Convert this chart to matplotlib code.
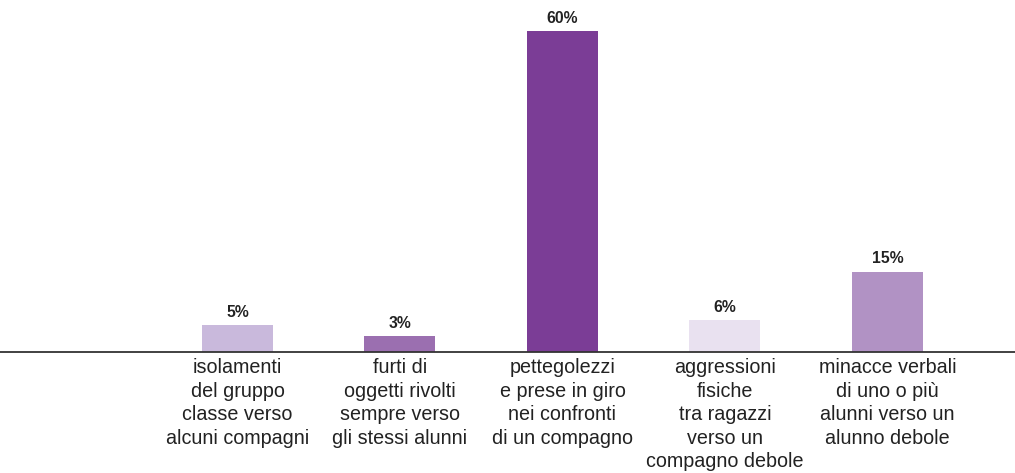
import matplotlib
matplotlib.use("Agg")
import matplotlib.pyplot as plt
import numpy as np

categories = [
    "isolamenti\ndel gruppo\nclasse verso\nalcuni compagni",
    "furti di\noggetti rivolti\nsempre verso\ngli stessi alunni",
    "pettegolezzi\ne prese in giro\nnei confronti\ndi un compagno",
    "aggressioni\nfisiche\ntra ragazzi\nverso un\ncompagno debole",
    "minacce verbali\ndi uno o più\nalunni verso un\nalunno debole",
]
values = [5, 3, 60, 6, 15]
colors = ["#c9b9dc", "#9b6fb0", "#7b3d96", "#e9e1f0", "#b192c4"]

plt.rcParams["font.family"] = ["Liberation Sans", "DejaVu Sans"]

W, H = 1015, 473
fig = plt.figure(figsize=(W / 100, H / 100), dpi=100)
base_px = 352
ax = fig.add_axes([0, (H - base_px) / H, 1, base_px / H])

x = np.arange(1, len(values) + 1)
ax.bar(x, values, width=0.437, color=colors)

ax.set_xlim(-0.4615, 5.785)
ax.set_ylim(0, base_px / 5.35)

for xi, v in zip(x, values):
    ax.text(xi, v + 1.0, f"{v}%", ha="center", va="bottom",
            fontsize=11.3, fontweight="bold", color="#222222")

for xi, lab in zip(x, categories):
    ax.text(xi, -1.1, lab, ha="center", va="top", fontsize=14.2,
            color="#222222", linespacing=1.31)

for s in ["top", "right", "left"]:
    ax.spines[s].set_visible(False)
ax.spines["bottom"].set_color("#333333")
ax.spines["bottom"].set_linewidth(1.3)
ax.set_xticks([])
ax.set_yticks([])

fig.savefig("out.png", dpi=100, facecolor="white")
